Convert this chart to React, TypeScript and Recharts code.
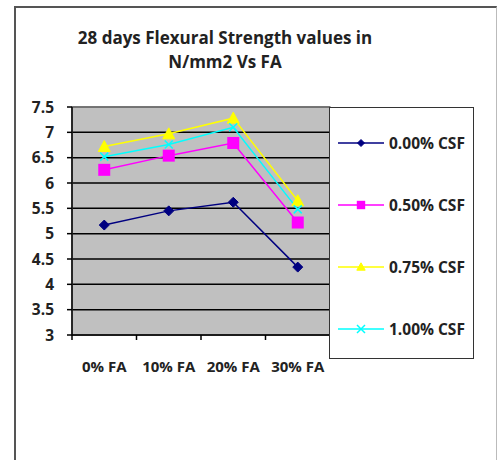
import React from 'react';
import { LineChart, Line, XAxis, YAxis, CartesianGrid, ReferenceArea } from 'recharts';

const categories = ['0% FA', '10% FA', '20% FA', '30% FA'];
const seriesNames = ['0.00% CSF', '0.50% CSF', '0.75% CSF', '1.00% CSF'];
const csf000 = [5.17, 5.45, 5.62, 4.34];
const csf050 = [6.26, 6.54, 6.79, 5.22];
const csf075 = [6.72, 6.97, 7.28, 5.65];
const csf100 = [6.52, 6.76, 7.1, 5.48];
const yTicks = [3, 3.5, 4, 4.5, 5, 5.5, 6, 6.5, 7, 7.5];
const xTicks = [0, 0.5, 1, 1.5, 2, 2.5, 3, 3.5, 4];

const colors = ['#000080', '#FF00FF', '#FFFF00', '#00FFFF'];
const shapes = ['diamond', 'square', 'triangle', 'cross'];
const keys = ['s0', 's1', 's2', 's3'];
const FONT = '"Open Sans", Calibri, sans-serif';

const data = categories.map((cat, i) => ({
  x: i + 0.5,
  cat,
  s0: csf000[i],
  s1: csf050[i],
  s2: csf075[i],
  s3: csf100[i],
}));

function Marker({ shape, cx, cy, color, s = 1 }: { shape: string; cx: number; cy: number; color: string; s?: number }) {
  if (shape === 'diamond') {
    const r = 5 * s;
    return <path d={`M${cx},${cy - r}L${cx + r},${cy}L${cx},${cy + r}L${cx - r},${cy}Z`} fill={color} stroke={color} />;
  }
  if (shape === 'square') {
    const r = 6 * s;
    return <rect x={cx - r} y={cy - r} width={r * 2} height={r * 2} fill={color} />;
  }
  if (shape === 'triangle') {
    const r = 6 * s;
    return <path d={`M${cx},${cy - r}L${cx + r},${cy + r - 1}L${cx - r},${cy + r - 1}Z`} fill={color} stroke={color} />;
  }
  const r = 4;
  return (
    <path d={`M${cx - r},${cy - r}L${cx + r},${cy + r}M${cx + r},${cy - r}L${cx - r},${cy + r}`} stroke={color} strokeWidth={1.5} />
  );
}

const makeDot = (idx: number) => (props: any) => (
  <Marker key={`${idx}-${props.index}`} shape={shapes[idx]} cx={props.cx} cy={props.cy} color={colors[idx]} />
);

function XTick(props: any) {
  const { x, y, payload } = props;
  const v = payload.value;
  if (Number.isInteger(v)) {
    return <line x1={x} y1={y} x2={x} y2={y + 5} stroke="#000" strokeWidth={1.5} />;
  }
  return (
    <text x={x} y={y + 37} textAnchor="middle" fontSize={15} fontWeight="bold" fontFamily={FONT} fill="#222">
      {categories[Math.floor(v)]}
    </text>
  );
}

export default function App() {
  return (
    <div style={{ position: 'absolute', left: 0, top: 0, width: 497, height: 460, background: '#fff', overflow: 'hidden' }}>
      <div
        style={{
          position: 'absolute',
          left: 14,
          top: 6,
          width: 480,
          height: 470,
          borderLeft: '2px solid #555',
          borderTop: '2px solid #555',
          borderRight: '1px solid #bbb',
        }}
      />
      <div
        style={{
          position: 'absolute',
          left: 15,
          top: 26,
          width: 420,
          textAlign: 'center',
          fontFamily: FONT,
          fontWeight: 'bold',
          fontSize: 17,
          lineHeight: '24px',
          color: '#222',
        }}
      >
        28 days Flexural Strength values in
        <br />
        N/mm2 Vs FA
      </div>
      <div style={{ position: 'absolute', left: 0, top: 0 }}>
        <LineChart width={497} height={460} data={data} margin={{ top: 107, right: 167, left: 12, bottom: 85 }}>
          <CartesianGrid vertical={false} stroke="#000" strokeWidth={1.5} fill="#C0C0C0" fillOpacity={1} />
          <ReferenceArea x1={0} x2={4} y1={3} y2={7.5} fill="none" stroke="#888" strokeWidth={1.5} />
          <XAxis
            dataKey="x"
            type="number"
            domain={[0, 4]}
            ticks={xTicks}
            interval={0}
            tickLine={false}
            tickSize={0}
            tickMargin={0}
            height={40}
            axisLine={{ stroke: '#000', strokeWidth: 1.5 }}
            tick={<XTick />}
          />
          <YAxis
            domain={[3, 7.5]}
            ticks={yTicks}
            interval={0}
            width={60}
            tickSize={5}
            tickMargin={13}
            axisLine={{ stroke: '#000', strokeWidth: 1.5 }}
            tickLine={{ stroke: '#000', strokeWidth: 1.5 }}
            tick={{ fontSize: 15.5, fontWeight: 'bold', fontFamily: FONT, fill: '#222' }}
          />
          {keys.map((k, i) => (
            <Line
              key={k}
              type="linear"
              dataKey={k}
              name={seriesNames[i]}
              stroke={colors[i]}
              strokeWidth={1.5}
              dot={makeDot(i)}
              activeDot={false}
              isAnimationActive={false}
            />
          ))}
        </LineChart>
      </div>
      <div
        style={{
          position: 'absolute',
          left: 329,
          top: 107,
          width: 143,
          height: 250,
          border: '1.5px solid #333',
          background: '#fff',
        }}
      >
        {seriesNames.map((name, i) => (
          <div
            key={name}
            style={{ position: 'absolute', left: 0, top: 35 + i * 62 - 10, height: 20, display: 'flex', alignItems: 'center' }}
          >
            <svg width={58} height={20} style={{ display: 'block' }}>
              <line x1={8} y1={10} x2={54} y2={10} stroke={colors[i]} strokeWidth={1.5} />
              <Marker shape={shapes[i]} cx={31} cy={10} color={colors[i]} s={0.7} />
            </svg>
            <span style={{ fontFamily: FONT, fontWeight: 'bold', fontSize: 15.5, color: '#222', marginLeft: 1, whiteSpace: 'nowrap' }}>
              {name}
            </span>
          </div>
        ))}
      </div>
    </div>
  );
}
